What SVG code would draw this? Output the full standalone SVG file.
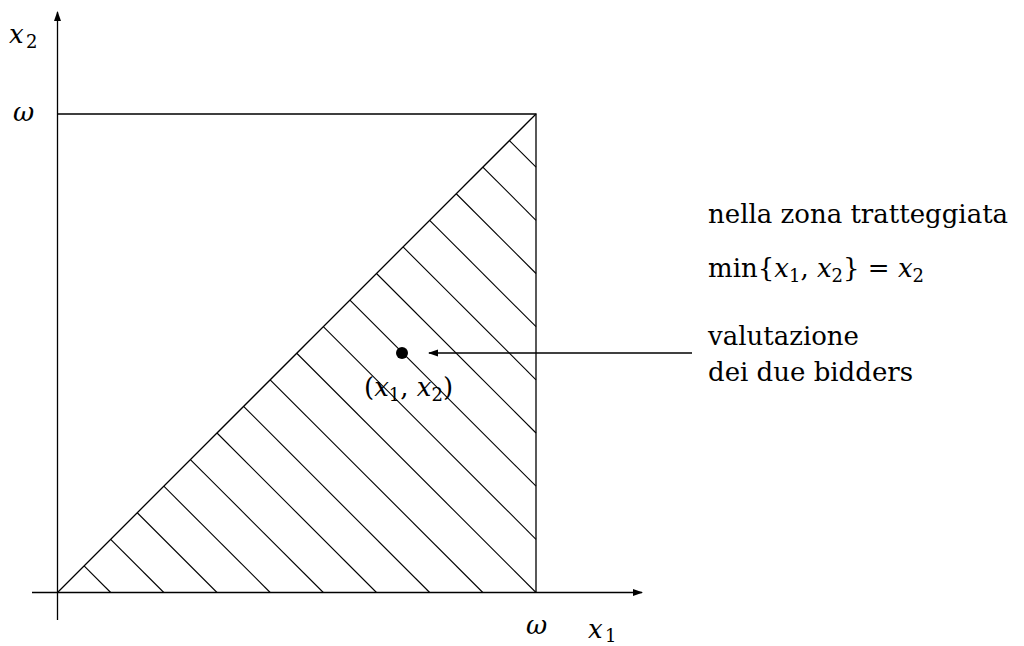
<svg xmlns="http://www.w3.org/2000/svg" width="1024" height="646" viewBox="0 0 1024 646">
<style>
.ln{stroke:#000;stroke-width:1.3;fill:none}
.h{stroke:#000;stroke-width:1.1;fill:none}
.t{font-family:"DejaVu Serif","Liberation Serif",serif;font-size:26px;fill:#000}
.m{font-family:"DejaVu Serif","Liberation Serif",serif;font-style:italic;font-size:26px;fill:#000}
.s{font-family:"DejaVu Serif","Liberation Serif",serif;font-style:normal;font-size:18px;fill:#000}
</style>
<defs>
<marker id="ah" viewBox="0 0 10 10" refX="9" refY="5" markerWidth="10" markerHeight="10" markerUnits="userSpaceOnUse" orient="auto">
<path d="M0,1.5 L10,5 L0,8.5 Z" fill="#000"/>
</marker>
</defs>
<rect width="1024" height="646" fill="#fff"/>
<g id="axes">
<line class="ln" x1="57.5" y1="620" x2="57.5" y2="12" marker-end="url(#ah)"/>
<line class="ln" x1="32" y1="592.5" x2="642" y2="592.5" marker-end="url(#ah)"/>
</g>
<g id="square">
<polyline class="ln" points="57.5,114 536,114 536,592.5"/>
<line class="ln" x1="57.5" y1="592.5" x2="536" y2="114"/>
</g>
<g id="hatch" class="h">
<line x1="84.08" y1="565.92" x2="110.67" y2="592.5"/>
<line x1="110.67" y1="539.33" x2="163.83" y2="592.5"/>
<line x1="137.25" y1="512.75" x2="217" y2="592.5"/>
<line x1="163.83" y1="486.17" x2="270.17" y2="592.5"/>
<line x1="190.42" y1="459.58" x2="323.33" y2="592.5"/>
<line x1="217" y1="433" x2="376.5" y2="592.5"/>
<line x1="243.58" y1="406.42" x2="429.67" y2="592.5"/>
<line x1="270.17" y1="379.83" x2="482.83" y2="592.5"/>
<line x1="296.75" y1="353.25" x2="536" y2="592.5"/>
<line x1="323.33" y1="326.67" x2="536" y2="539.33"/>
<line x1="349.92" y1="300.08" x2="536" y2="486.17"/>
<line x1="376.5" y1="273.5" x2="536" y2="433"/>
<line x1="403.08" y1="246.92" x2="536" y2="379.83"/>
<line x1="429.67" y1="220.33" x2="536" y2="326.67"/>
<line x1="456.25" y1="193.75" x2="536" y2="273.5"/>
<line x1="482.83" y1="167.17" x2="536" y2="220.33"/>
<line x1="509.42" y1="140.58" x2="536" y2="167.17"/>
</g>
<g id="point">
<circle cx="402" cy="353" r="6" fill="#000"/>
<text class="t" x="364" y="396">(<tspan class="m">x</tspan><tspan class="s" dy="5">1</tspan><tspan dy="-5">, </tspan><tspan class="m">x</tspan><tspan class="s" dy="5">2</tspan><tspan dy="-5">)</tspan></text>
</g>
<g id="connectors">
<line class="ln" x1="692" y1="353" x2="429" y2="353" marker-end="url(#ah)"/>
</g>
<g id="labels">
<text class="m" x="9" y="43">x</text><text class="s" x="26" y="48">2</text>
<text class="m" x="13" y="121">ω</text>
<text class="m" x="526" y="634">ω</text>
<text class="m" x="588" y="638">x</text><text class="s" x="605" y="642">1</text>
</g>
<g id="note1">
<text class="t" x="708" y="223">nella zona tratteggiata</text>
<text class="t" x="708" y="277">min{<tspan class="m">x</tspan><tspan class="s" dy="5">1</tspan><tspan dy="-5">, </tspan><tspan class="m">x</tspan><tspan class="s" dy="5">2</tspan><tspan dy="-5">} = </tspan><tspan class="m">x</tspan><tspan class="s" dy="5">2</tspan></text>
</g>
<g id="note2">
<text class="t" x="708" y="345">valutazione</text>
<text class="t" x="708" y="381">dei due bidders</text>
</g>
</svg>
